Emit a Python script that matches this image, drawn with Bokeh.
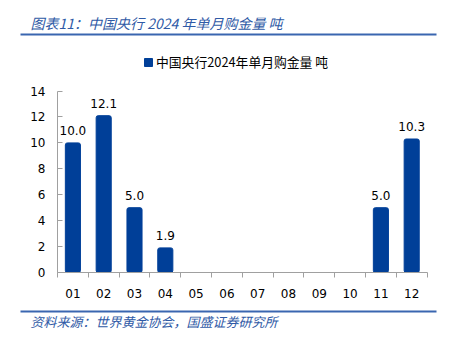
from bokeh.plotting import figure
from bokeh.models import (ColumnDataSource, FixedTicker, Label, BoxAnnotation,
                          Legend, LegendItem, Range1d)
from bokeh.core.properties import value
from bokeh.embed import file_html
from bokeh.resources import INLINE

months = ["01", "02", "03", "04", "05", "06", "07", "08", "09", "10", "11", "12"]
tonnes = [10.0, 12.1, 5.0, 1.9, 0, 0, 0, 0, 0, 0, 5.0, 10.3]
y_ticks = [0, 2, 4, 6, 8, 10, 12, 14]
title_text = "图表11：中国央行 2024 年单月购金量 吨"
series_name = "中国央行2024年单月购金量 吨"
source_text = "资料来源：世界黄金协会，国盛证券研究所"

BAR = "#003f98"
BLUE_TXT = "#2f5aa6"
RULE = "#3a66b0"
AXIS = "#a0a0a0"
NUM_FONT = "DejaVu Sans"
CJK = "Noto Sans CJK SC"

W, H = 452, 341
# layout of the plotting area on the page (pixels from top-left)
AX_LEFT, STEP = 57.0, 30.8      # x pixel of category edge 0.5, width of one category
ZERO_Y, UNIT = 272.0, 12.96     # y pixel of value 0, pixels per tonne

n = len(months)
xs = list(range(1, n + 1))
labels = ["%.1f" % v if v > 0 else "" for v in tonnes]
src = ColumnDataSource(dict(x=xs, top=tonnes, lab=labels))

x_range = Range1d(0.5 - AX_LEFT / STEP, 0.5 + (W - AX_LEFT) / STEP)
y_range = Range1d(-(H - ZERO_Y) / UNIT, ZERO_Y / UNIT)

p = figure(width=W, height=H, output_backend="svg", toolbar_location=None,
           x_range=x_range, y_range=y_range,
           min_border=0, min_border_left=0, min_border_right=0,
           min_border_top=0, min_border_bottom=0)
p.background_fill_color = "white"
p.border_fill_color = "white"
p.outline_line_color = None
p.grid.grid_line_color = None

r = p.vbar(x="x", top="top", width=0.49, source=src, color=BAR, border_radius=2)
p.text(x="x", y="top", text="lab", source=src, text_align="center",
       text_baseline="bottom", y_offset=-8, text_font=value(NUM_FONT),
       text_font_size="12px", text_color="#000000")

xa = p.xaxis[0]
xa.fixed_location = 0
xa.bounds = (0.5, n + 0.5)
xa.ticker = FixedTicker(ticks=xs, minor_ticks=[i + 0.5 for i in range(0, n + 1)])
xa.major_label_overrides = {i: m for i, m in zip(xs, months)}
xa.major_tick_out = 0
xa.major_tick_in = 0
xa.minor_tick_out = 5
xa.minor_tick_in = 0
xa.minor_tick_line_color = AXIS
xa.axis_line_color = AXIS
xa.major_label_standoff = 11
xa.major_label_text_font = NUM_FONT
xa.major_label_text_font_size = "12px"
xa.major_label_text_color = "#000000"

ya = p.yaxis[0]
ya.fixed_location = 0.5
ya.bounds = (y_ticks[0], y_ticks[-1])
ya.ticker = FixedTicker(ticks=y_ticks)
ya.major_tick_in = 5
ya.major_tick_out = 0
ya.minor_tick_line_color = None
ya.major_tick_line_color = AXIS
ya.axis_line_color = AXIS
ya.major_label_standoff = 12
ya.major_label_text_font = NUM_FONT
ya.major_label_text_font_size = "12px"
ya.major_label_text_color = "#000000"

# legend
leg = Legend(items=[LegendItem(label=series_name, renderers=[r])],
             location=(143, H - 71), orientation="horizontal",
             border_line_color=None, background_fill_alpha=0,
             padding=0, margin=0, glyph_width=10, glyph_height=10,
             label_standoff=3, label_text_font=CJK,
             label_text_font_size="12.8px", label_text_color="#000000")
p.add_layout(leg, "center")


def sy(y):
    return H - y


p.add_layout(Label(x=30, y=sy(22), x_units="screen", y_units="screen",
                   text=title_text, text_font=CJK, text_font_size="14px",
                   text_font_style="italic", text_color=BLUE_TXT,
                   text_baseline="middle"))
p.add_layout(Label(x=30, y=sy(321), x_units="screen", y_units="screen",
                   text=source_text, text_font=CJK, text_font_size="13px",
                   text_font_style="italic", text_color=BLUE_TXT,
                   text_baseline="middle"))
for yy in (34, 311):
    p.add_layout(BoxAnnotation(left=20, right=436, top=sy(yy - 1), bottom=sy(yy + 1),
                               left_units="screen", right_units="screen",
                               top_units="screen", bottom_units="screen",
                               fill_color=RULE, fill_alpha=1, line_color=None))

open("out.html", "w").write(file_html(p, INLINE))
